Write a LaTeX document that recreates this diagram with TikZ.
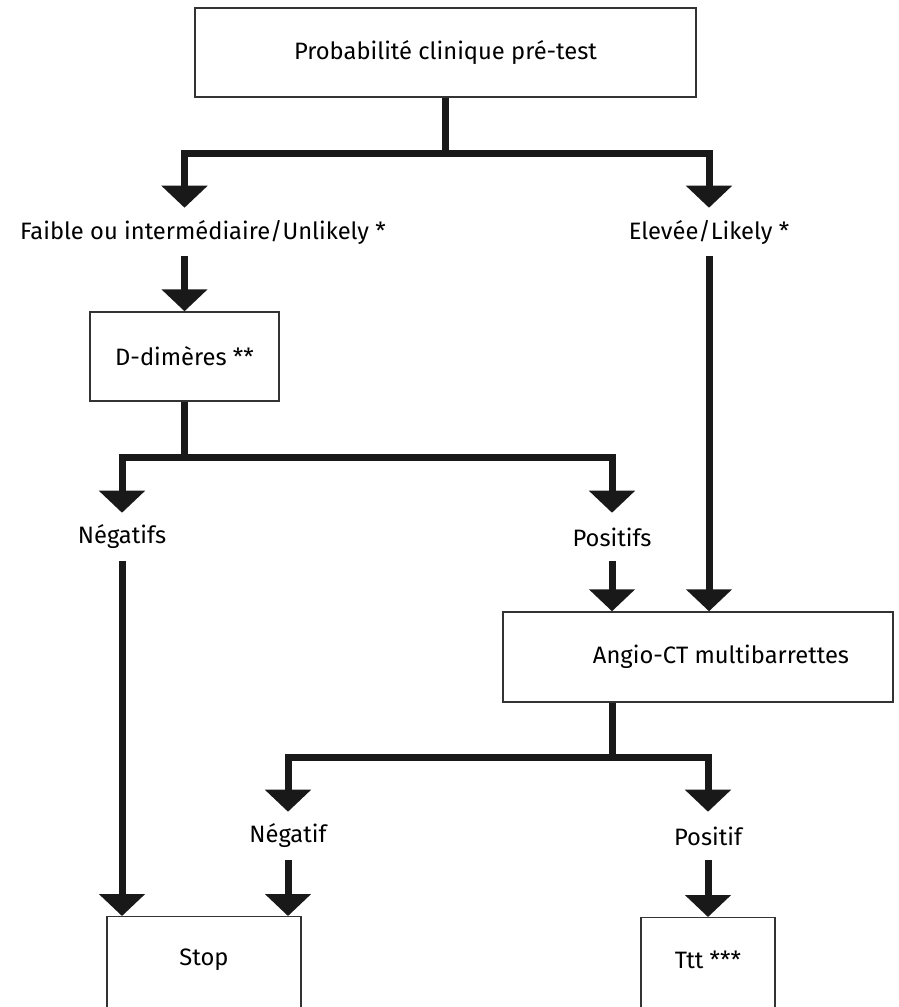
\documentclass[tikz,border=0pt]{standalone}
\usepackage{fontspec}
\setmainfont{Fira Sans}
\usetikzlibrary{arrows.meta,positioning,calc}
\tikzset{
  basic/.style  = {draw=black!80, line width=1.1pt, rectangle, inner sep=0pt,
                   font=\fontsize{17.8}{20}\selectfont},
  root/.style   = {basic, minimum width=375.75pt, minimum height=66.75pt},
  dbox/.style   = {basic, minimum width=141.75pt, minimum height=66.75pt},
  ctbox/.style  = {basic, minimum width=292.5pt, minimum height=67.5pt},
  endbox/.style = {basic, anchor=north, minimum height=112.5pt},
  txt/.style    = {inner sep=0pt, font=\fontsize{17.8}{20}\selectfont},
  lbl/.style    = {txt, minimum height=36pt},
  line/.style   = {line width=5.25pt, black!90}
}

\begin{document}
\begin{tikzpicture}[x=0.75pt, y=-0.75pt,
  >={Triangle[width=33.75pt,length=16.5pt]}]
\useasboundingbox (0,0) rectangle (899,1007);
\clip (0,0) rectangle (899,1007);

% boxes and labels
\node[root] (pre) at (445.5,52.5) {Probabilité clinique pré-test};
\node[lbl] (low) at (203,232) {Faible ou intermédiaire/Unlikely *};
\node[lbl] (high) at (709,232) {Elevée/Likely *};
\node[dbox] (dd) at (184.5,356.5) {D-dimères **};
\node[lbl] (neg1) at (122,537) {Négatifs};
\node[lbl] (pos1) at (612,537) {Positifs};
\node[ctbox] (ct) at (698,657) {};
\node[txt] (ctt) at (721,657) {Angio-CT multibarrettes};
\node[lbl] (neg2) at (288,836) {Négatif};
\node[lbl] (pos2) at (708,836) {Positif};
\node[endbox, minimum width=145.5pt] (stop) at (204,916) {};
\node[txt] (stopt) at (204,960) {Stop};
\node[endbox, minimum width=100.5pt] (ttt) at (708,917) {};
\node[txt] (tttt) at (708,960) {Ttt ***};

% stems down to the split bars
\draw[line] (pre.south) -- ++(0,55.5) coordinate (s1);
\draw[line] (dd.south) -- ++(0,56) coordinate (s2);
\draw[line] (ct.south -| pos1) -- ++(0,55) coordinate (s3);

% split bars with their arrows
\draw[->,line] (s1) -| (low.north -| dd.north);
\foreach \a/\b in {s1/high, s2/neg1, s2/pos1, s3/neg2, s3/pos2}
  \draw[->,line] (\a) -| (\b.north);

% arrows from the labels into the boxes
\draw[->,line] (low.south -| dd.north) -- (dd.north);
\draw[->,line] (high.south) -- (high.south |- ct.north);
\draw[->,line] (pos1.south) -- (pos1.south |- ct.north);
\draw[->,line] (neg1.south) -- (neg1.south |- stop.north);
\draw[->,line] (neg2.south) -- (neg2.south |- stop.north);
\draw[->,line] (pos2.south) -- (ttt.north);
\end{tikzpicture}
\end{document}
